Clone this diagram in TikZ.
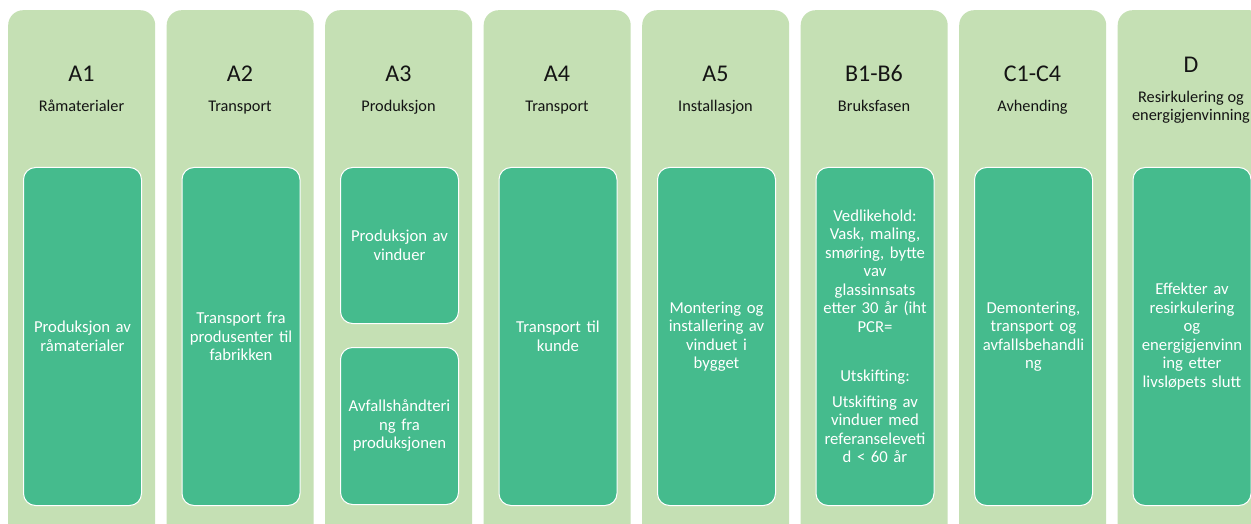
\documentclass[tikz,border=0pt]{standalone}
\usepackage{fontspec}
\setmainfont{Carlito}
\definecolor{colbg}{RGB}{197,224,180}
\definecolor{inbox}{RGB}{69,187,141}
\definecolor{headtxt}{RGB}{20,20,20}
\begin{document}
\begin{tikzpicture}[x=1pt,y=-1pt,
  colbox/.style={fill=colbg, draw=none, rounded corners=15pt, minimum width=147pt, minimum height=540pt, anchor=north west, inner sep=0pt},
  inb/.style={fill=inbox, draw=white, line width=1pt, rounded corners=12pt, minimum width=118pt, anchor=north west, inner sep=0pt, align=center, text width=114pt, text=white, font=\fontsize{16.7}{18.5}\selectfont},
  head/.style={text=headtxt, font=\fontsize{24}{28}\selectfont, inner sep=0pt, anchor=base},
  sub/.style={text=headtxt, font=\fontsize{16.3}{20}\selectfont, inner sep=0pt, anchor=base}]
\useasboundingbox (0,0) rectangle (1251,524);
\clip (0,0) rectangle (1251,524);
\fill[white] (0,0) rectangle (1251,524);
% columns
\node[colbox] (c1) at (8,10) {};
\node[colbox] (c2) at (166.5,10) {};
\node[colbox] (c3) at (325,10) {};
\node[colbox] (c4) at (483.5,10) {};
\node[colbox] (c5) at (642,10) {};
\node[colbox] (c6) at (800.5,10) {};
\node[colbox] (c7) at (959,10) {};
\node[colbox] (c8) at (1117.5,10) {};
% headings
\node[head] (h1) at (81.5,82) {A1};
\node[head] (h2) at (240,82) {A2};
\node[head] (h3) at (398.5,82) {A3};
\node[head] (h4) at (557,82) {A4};
\node[head] (h5) at (715.5,82) {A5};
\node[head] (h6) at (874,82) {B1-B6};
\node[head] (h7) at (1032.5,82) {C1-C4};
\node[head] (h8) at (1191,73) {D};
\node[sub] (s1) at (81.5,112) {Råmaterialer};
\node[sub] (s2) at (240,112) {Transport};
\node[sub] (s3) at (398.5,112) {Produksjon};
\node[sub] (s4) at (557,112) {Transport};
\node[sub] (s5) at (715.5,112) {Installasjon};
\node[sub] (s6) at (874,112) {Bruksfasen};
\node[sub] (s7) at (1032.5,112) {Avhending};
\node[sub] (s8) at (1191,103) {Resirkulering og};
\node[sub] (s8b) at (1191,121) {energigjenvinning};
% inner boxes
\node[inb, minimum height=338pt] (i1) at (23,167) {Produksjon av\\råmaterialer};
\node[inb, minimum height=338pt] (i2) at (181.5,167) {Transport fra\\produsenter til\\fabrikken};
\node[inb, minimum height=156pt] (i3a) at (340,167) {Produksjon av\\vinduer};
\node[inb, minimum height=157pt] (i3b) at (340,347) {Avfallshåndteri\\ng fra\\produksjonen};
\node[inb, minimum height=338pt] (i4) at (498.5,167) {Transport til\\kunde};
\node[inb, minimum height=338pt] (i5) at (657,167) {Montering og\\installering av\\vinduet i\\bygget};
\node[inb, minimum height=338pt] (i6) at (815.5,167) {Vedlikehold:\\Vask, maling,\\smøring, bytte\\vav\\glassinnsats\\etter 30 år (iht\\PCR=\\[31pt]Utskifting:\\[7pt]Utskifting av\\vinduer med\\referanseleveti\\d < 60 år};
\node[inb, minimum height=338pt] (i7) at (974,167) {Demontering,\\transport og\\avfallsbehandli\\ng};
\node[inb, minimum height=338pt] (i8) at (1132.5,167) {Effekter av\\resirkulering\\og\\energigjenvinn\\ing etter\\livsløpets slutt};
\end{tikzpicture}
\end{document}
